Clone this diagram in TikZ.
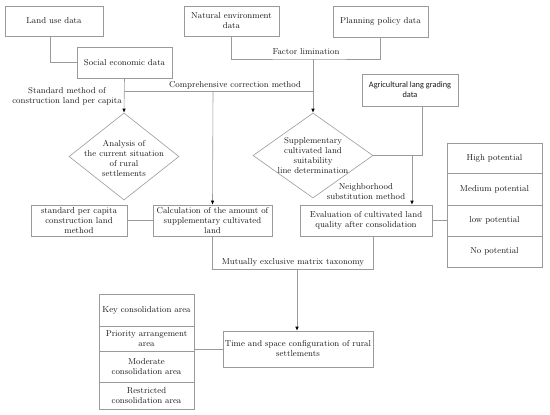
\documentclass[tikz,border=0pt]{standalone}
\usepackage{fontspec}
\newfontfamily\calfont{Carlito}
\usetikzlibrary{shapes.geometric,arrows.meta,calc}
\definecolor{boxgray}{HTML}{9A9A9A}
\definecolor{linegray}{HTML}{9A9A9A}
\definecolor{txt}{HTML}{1A1A1A}
\newcommand{\fs}{\fontsize{8.6}{10}\selectfont}
\tikzset{
  box/.style={draw=boxgray, line width=0.6pt, fill=white, inner sep=1pt, align=center, font=\fs, text=txt},
  dia/.style={diamond, draw=boxgray, line width=0.6pt, inner sep=0pt},
  lbl/.style={align=center, font=\fs, text=txt, inner sep=0pt},
  ln/.style={draw=linegray, line width=0.6pt},
  arr/.style={ln, -{Latex[length=4pt,width=3.5pt,color=black]}}
}
\begin{document}
\begin{tikzpicture}[x=1pt,y=-1pt]
\useasboundingbox (0,0) rectangle (550,415);
% top row
\node[box,minimum width=98pt,minimum height=30pt] (lu) at (54,21) {Land use data};
\node[box,minimum width=95pt,minimum height=31pt] (se) at (124.5,62.5) {Social economic data};
\node[box,minimum width=95pt,minimum height=30pt] (ne) at (231.5,21) {Natural environment\\data};
\node[box,minimum width=95pt,minimum height=31pt] (pp) at (380.5,21.5) {Planning policy data};
\node[box,minimum width=96pt,minimum height=32pt,font=\calfont\fontsize{8.3}{10}\selectfont] (ag) at (410,90) {Agricultural lang grading\\data};
% diamonds
\node[dia,minimum width=110pt,minimum height=87pt] (an) at (124,156.5) {};
\node[lbl] (ant) at (124,158) {Analysis of\\the current situation\\of rural\\settlements};
\node[dia,minimum width=120pt,minimum height=85pt] (sd) at (313,155.5) {};
\node[lbl] (sdt) at (313,156) {Supplementary\\cultivated land\\suitability\\line determination};
% middle row
\node[box,minimum width=96pt,minimum height=31pt] (spc) at (79,220.5) {standard per capita\\construction land\\method};
\node[box,minimum width=119pt,minimum height=31pt] (calc) at (212.5,220.5) {Calculation of the amount of\\supplementary cultivated\\land};
\node[box,minimum width=132pt,minimum height=31pt] (ev) at (366,220.5) {Evaluation of cultivated land\\quality after consolidation};
% potential column
\node[box,minimum width=95pt,minimum height=30pt] (p1) at (494.5,158) {High potential};
\node[box,minimum width=95pt,minimum height=32pt] (p2) at (494.5,189) {Medium potential};
\node[box,minimum width=95pt,minimum height=31pt] (p3) at (494.5,220.5) {low potential};
\node[box,minimum width=95pt,minimum height=31pt] (p4) at (494.5,251.5) {No potential};
% bottom
\node[box,minimum width=150pt,minimum height=36pt] (tsc) at (298,349) {Time and space configuration of rural\\settlements};
\node[box,minimum width=95pt,minimum height=32pt] (k1) at (146.5,310) {Key consolidation area};
\node[box,minimum width=95pt,minimum height=25pt] (k2) at (146.5,338.5) {Priority arrangement\\area};
\node[box,minimum width=95pt,minimum height=31pt] (k3) at (146.5,366.5) {Moderate\\consolidation area};
\node[box,minimum width=95pt,minimum height=27pt] (k4) at (146.5,395.5) {Restricted\\consolidation area};
% labels
\node[lbl] (l1) at (67,96) {Standard method of\\construction land per capita};
\node[lbl] (l2) at (235,85) {Comprehensive correction method};
\node[lbl] (l3) at (306,52) {Factor limination};
\node[lbl] (l4) at (366,192) {Neighborhood\\substitution method};
\node[lbl] (l5) at (293,262) {Mutually exclusive matrix taxonomy};
% junction coordinates
\coordinate (fl) at (313,59);
\coordinate (cc) at (313,91);
\coordinate (sj) at (124,91);
\coordinate (cj) at (213,91);
\coordinate (agj) at (422,155.5);
\coordinate (evj) at (412,155.5);
\coordinate (mj2) at (373,269);
\coordinate (tj) at (297,269);
% connectors
\draw[ln] ($(lu.south)+(-4,0)$) |- (se.west);
\draw[ln] (ne.south) |- (fl) -| (pp.south);
\draw[arr] (fl) -- (sd.north);
\draw[arr] (se.south) -- (an.north);
\draw[ln] (sj) -- (cc);
\draw[arr] (cj) -- (calc.north);
\draw[ln] (sd.east) -- (agj);
\draw[ln] ($(ag.south)+(12,0)$) -- (agj);
\draw[arr] (evj) -- (ev.north -| evj);
\draw[ln] (ev.east) -- (p3.west);
\draw[ln] (spc.east) -- (calc.west);
\draw[ln] (calc.south) |- (mj2) -- (ev.south -| mj2);
\draw[arr] (tj) -- (tj |- tsc.north);
\draw[ln] (tsc.west) -- (tsc.west -| k2.east);
\end{tikzpicture}
\end{document}
